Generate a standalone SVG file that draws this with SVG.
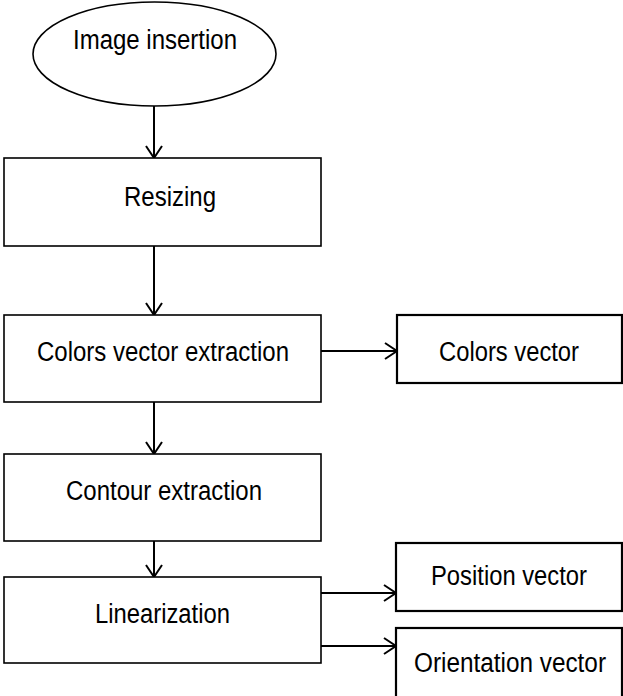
<svg xmlns="http://www.w3.org/2000/svg" width="623" height="696" viewBox="0 0 623 696">
<style>
.box{fill:#fff;stroke:#000;stroke-width:1.6}
.obox{fill:#fff;stroke:#000;stroke-width:2.2}
.t{font-family:"Liberation Sans",Arial,sans-serif;font-size:27px;fill:#000}
.c{stroke:#000;stroke-width:2;fill:none}
</style>
<defs>
<marker id="ah" markerUnits="userSpaceOnUse" markerWidth="20" markerHeight="20" viewBox="-14 -10 16 20" refX="0" refY="0" orient="auto">
<path d="M-12,-8 L0,0 L-12,8" fill="none" stroke="#000" stroke-width="2"/>
</marker>
</defs>
<rect width="623" height="696" fill="#fff"/>
<g id="connectors">
<line class="c" x1="154" y1="106" x2="154" y2="158" marker-end="url(#ah)"/>
<line class="c" x1="154" y1="246" x2="154" y2="315" marker-end="url(#ah)"/>
<line class="c" x1="154" y1="402" x2="154" y2="454" marker-end="url(#ah)"/>
<line class="c" x1="154" y1="541" x2="154" y2="577" marker-end="url(#ah)"/>
<line class="c" x1="321" y1="351" x2="397" y2="351" marker-end="url(#ah)"/>
<line class="c" x1="321" y1="593" x2="396" y2="593" marker-end="url(#ah)"/>
<line class="c" x1="321" y1="646" x2="396" y2="646" marker-end="url(#ah)"/>
</g>
<g id="image-insertion">
<ellipse class="box" cx="154.5" cy="54" rx="121.5" ry="52"/>
<text class="t" x="73" y="49" textLength="164" lengthAdjust="spacingAndGlyphs">Image insertion</text>
</g>
<g id="resizing">
<rect class="box" x="4" y="158" width="317" height="88"/>
<text class="t" x="124" y="206" textLength="92" lengthAdjust="spacingAndGlyphs">Resizing</text>
</g>
<g id="colors-vector-extraction">
<rect class="box" x="4" y="315" width="317" height="87"/>
<text class="t" x="37" y="361" textLength="252" lengthAdjust="spacingAndGlyphs">Colors vector extraction</text>
</g>
<g id="colors-vector">
<rect class="obox" x="397" y="315" width="225" height="68"/>
<text class="t" x="439" y="361" textLength="140" lengthAdjust="spacingAndGlyphs">Colors vector</text>
</g>
<g id="contour-extraction">
<rect class="box" x="4" y="454" width="317" height="87"/>
<text class="t" x="66" y="500" textLength="196" lengthAdjust="spacingAndGlyphs">Contour extraction</text>
</g>
<g id="linearization">
<rect class="box" x="4" y="577" width="317" height="86"/>
<text class="t" x="95" y="623" textLength="135" lengthAdjust="spacingAndGlyphs">Linearization</text>
</g>
<g id="position-vector">
<rect class="obox" x="396" y="543" width="226" height="68"/>
<text class="t" x="431" y="585" textLength="156" lengthAdjust="spacingAndGlyphs">Position vector</text>
</g>
<g id="orientation-vector">
<rect class="obox" x="396" y="628" width="226" height="80"/>
<text class="t" x="414" y="672" textLength="192" lengthAdjust="spacingAndGlyphs">Orientation vector</text>
</g>
</svg>
